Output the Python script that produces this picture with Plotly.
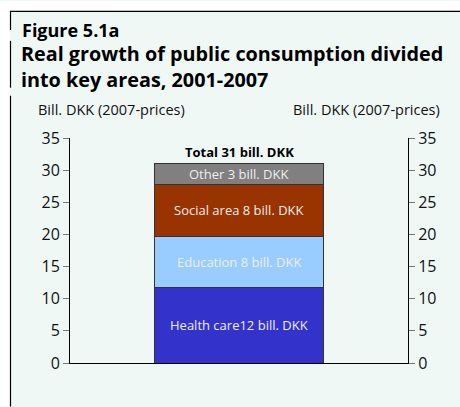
import plotly.graph_objects as go

# Data
categories = ["Health care", "Education", "Social area", "Other"]
values = [11.8, 7.9, 8.1, 3.2]
labels = ["Health care12 bill. DKK", "Education 8 bill. DKK", "Social area 8 bill. DKK", "Other 3 bill. DKK"]
colors = ["#3333CC", "#99CCFF", "#993300", "#808080"]
total_label = "Total 31 bill. DKK"
y_ticks = [0, 5, 10, 15, 20, 25, 30, 35]

W, H = 460, 407
L, R, T, B = 70, 52, 137.5, 43.7
PW, PH = W - L - R, H - T - B
FONT = "Open Sans"
BG = "#F0F8F6"


def px(x):
    return (x - L) / PW


def py(y):
    return (H - B - y) / PH


fig = go.Figure()
base = 0
for cat, v, lab, c in zip(categories, values, labels, colors):
    fig.add_trace(go.Bar(x=[0], y=[v], name=cat, marker=dict(color=c, line=dict(color="#333333", width=1)),
                         width=0.5, hoverinfo="skip"))
    fig.add_annotation(x=0, y=base + v / 2, xref="x", yref="y", text=lab, showarrow=False,
                       font=dict(family=FONT, size=13, color="#EEEEEE"))
    base += v

fig.add_annotation(x=0, y=base, xref="x", yref="y", text="<b>" + total_label + "</b>", showarrow=False,
                   yanchor="bottom", yshift=1, font=dict(family=FONT, size=13, color="#000000"))

# invisible trace for right axis
fig.add_trace(go.Scatter(x=[0], y=[0], yaxis="y2", mode="markers", marker=dict(opacity=0), showlegend=False,
                         hoverinfo="skip"))

axis_common = dict(range=[0, 35], tickvals=y_ticks, ticks="outside", ticklen=6, tickcolor="#777777",
                   showline=True, linecolor="#000000", linewidth=1, showgrid=False, zeroline=False,
                   tickfont=dict(family=FONT, size=16, color="#111111"))

fig.update_layout(
    width=W, height=H, barmode="stack", showlegend=False,
    margin=dict(l=L, r=R, t=T, b=B, autoexpand=False),
    paper_bgcolor=BG, plot_bgcolor=BG,
    xaxis=dict(range=[-0.5, 0.5], showticklabels=False, ticks="", showgrid=False, zeroline=False,
               showline=True, linecolor="#000000", linewidth=1.2, fixedrange=True),
    yaxis=dict(side="left", **axis_common),
    yaxis2=dict(side="right", overlaying="y", **axis_common),
)

# white bands at top and left, frame lines
fig.add_shape(type="rect", xref="paper", yref="paper", x0=px(0), x1=px(W), y0=py(10), y1=py(0),
              fillcolor="#FFFFFF", line=dict(width=0), layer="below")
fig.add_shape(type="rect", xref="paper", yref="paper", x0=px(0), x1=px(10), y0=py(H), y1=py(0),
              fillcolor="#FFFFFF", line=dict(width=0), layer="below")
fig.add_shape(type="line", xref="paper", yref="paper", x0=px(10), x1=px(W), y0=py(10.5), y1=py(10.5),
              line=dict(color="#000000", width=1.2))
for y0, y1 in [(10, 29), (40, 87), (95, H)]:
    fig.add_shape(type="line", xref="paper", yref="paper", x0=px(10.5), x1=px(10.5), y0=py(y0), y1=py(y1),
                  line=dict(color="#000000", width=1.2))

# titles
fig.add_annotation(xref="paper", yref="paper", x=px(20), y=py(29), xanchor="left", yanchor="middle",
                   text="<b>Figure 5.1a</b>", showarrow=False, font=dict(family=FONT, size=18, color="#000000"))
fig.add_annotation(xref="paper", yref="paper", x=px(19), y=py(66), xanchor="left", yanchor="middle",
                   text="<b>Real growth of public consumption divided<br>into key areas, 2001-2007</b>",
                   align="left", showarrow=False, font=dict(family=FONT, size=19.8, color="#000000"))
fig.add_annotation(xref="paper", yref="paper", x=px(36), y=py(109), xanchor="left", yanchor="middle",
                   text="Bill. DKK (2007-prices)", showarrow=False,
                   font=dict(family=FONT, size=14.5, color="#111111"))
fig.add_annotation(xref="paper", yref="paper", x=px(442), y=py(109), xanchor="right", yanchor="middle",
                   text="Bill. DKK (2007-prices)", showarrow=False,
                   font=dict(family=FONT, size=14.5, color="#111111"))

fig.write_html(
    "out.html", config={"displayModeBar": False},
    post_script=("document.documentElement.style.margin='0';document.body.style.margin='0';"
                 "document.body.style.overflow='hidden';window.scrollTo(0,0);"),
)
